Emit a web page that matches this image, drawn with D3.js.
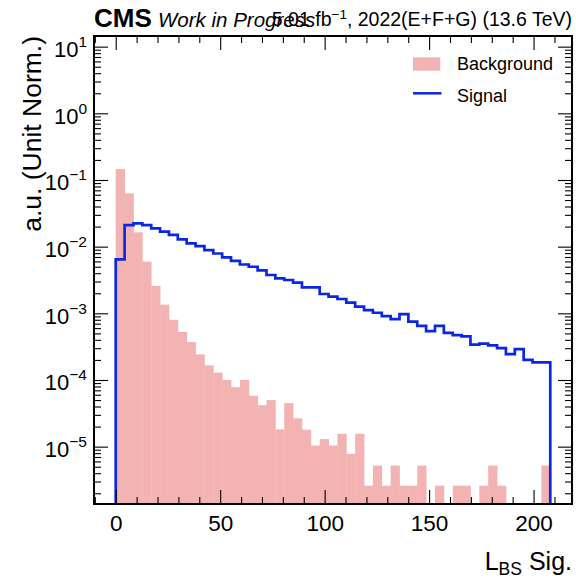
<!DOCTYPE html>
<html><head><meta charset="utf-8">
<script src="https://cdn.jsdelivr.net/npm/d3@7"></script>
<style>
body{margin:0;background:#fff}
svg{display:block}
text{font-family:"Liberation Sans",Arial,Helvetica,sans-serif;fill:#000}
</style>
</head><body>
<svg id="chart" width="576" height="581"></svg>
<script>
// ---------------- data ----------------
const binRange = [0, 208];
const nBins = 49;
const background = [
  0.146, 0.063, 0.0164, 0.00596, 0.00257, 0.00135, 8.0e-4, 5.25e-4, 3.7e-4, 2.43e-4,
  1.66e-4, 1.29e-4, 1.0e-4, 7.8e-5, 1.0e-4, 5.8e-5, 4.2e-5, 5.0e-5, 1.82e-5, 4.5e-5,
  2.66e-5, 1.8e-5, 1.04e-5, 1.3e-5, 1.04e-5, 1.56e-5, 7.8e-6, 1.56e-5, 2.6e-6, 5.2e-6,
  2.6e-6, 5.2e-6, 2.6e-6, 2.6e-6, 5.2e-6, 0, 2.6e-6, 0, 2.6e-6, 2.6e-6,
  0, 2.6e-6, 5.2e-6, 2.6e-6, 0, 0, 0, 0, 5.2e-6
];
const signal = [
  0.00646, 0.0211, 0.0224, 0.0211, 0.0188, 0.0168, 0.0150, 0.0129, 0.0112, 0.0102,
  0.0089, 0.0079, 0.0069, 0.0061, 0.0054, 0.0050, 0.0044, 0.00376, 0.00335, 0.00316,
  0.00288, 0.00245, 0.00245, 0.00195, 0.00178, 0.00164, 0.00145, 0.00126, 0.00112, 0.00102,
  0.00091, 0.00082, 0.00097, 0.00075, 0.00065, 0.00054, 0.00065, 0.00051, 0.00047, 0.00045,
  0.00034, 0.00035, 0.00033, 0.00030, 0.000245, 0.00029, 0.00020, 0.000184, 0.000184
];
const seriesNames = ["Background", "Signal"];
const xMajorTicks = [0, 50, 100, 150, 200];
const xMinorTicks = [-10, 10, 20, 30, 40, 60, 70, 80, 90, 110, 120, 130, 140, 160, 170, 180, 190, 210];
const yMajorExponents = [-5, -4, -3, -2, -1, 0, 1];
const xDomain = [-10.4, 218.4];
const yDomain = [1.38e-6, 14.45];
const xLabelMain = "L", xLabelSub = "BS", xLabelRest = " Sig.";
const yLabel = "a.u. (Unit Norm.)";
const expLabel = "CMS", expSub = "Work in Progress";
const lumiPre = "5.01 fb", lumiSup = "\u22121", lumiPost = ", 2022(E+F+G) (13.6 TeV)";

// ---------------- layout ----------------
const M = {left: 94, right: 572, top: 36, bottom: 504};
const bgColor = "rgb(244,179,179)";
const sigColor = "#0b27e6";
const font = '"Liberation Sans",Arial,Helvetica,sans-serif';

const svg = d3.select("#chart");
const x = d3.scaleLinear().domain(xDomain).range([M.left, M.right]);
const y = d3.scaleLog().domain(yDomain).range([M.bottom, M.top]);

const edges = d3.range(nBins + 1).map(i => binRange[0] + i * (binRange[1] - binRange[0]) / nBins);
const bgBins = background.map((v, i) => ({x0: edges[i], x1: edges[i + 1], v}));
const sigBins = signal.map((v, i) => ({x0: edges[i], x1: edges[i + 1], v}));

svg.append("defs").append("clipPath").attr("id", "clip")
  .append("rect").attr("x", M.left).attr("y", M.top)
  .attr("width", M.right - M.left).attr("height", M.bottom - M.top);

const plot = svg.append("g").attr("clip-path", "url(#clip)");

// background filled histogram
plot.append("g").selectAll("rect")
  .data(bgBins.filter(d => d.v > 0))
  .join("rect")
  .attr("x", d => x(d.x0))
  .attr("width", d => x(d.x1) - x(d.x0) + 0.4)
  .attr("y", d => y(d.v))
  .attr("height", d => M.bottom - y(d.v))
  .attr("fill", bgColor);

// signal step histogram
const stepPts = [[binRange[0], yDomain[0]]];
sigBins.forEach(d => { stepPts.push([d.x0, d.v]); stepPts.push([d.x1, d.v]); });
stepPts.push([binRange[1], yDomain[0]]);
plot.append("path")
  .datum(stepPts)
  .attr("d", d3.line().x(d => x(d[0])).y(d => y(d[1])))
  .attr("fill", "none")
  .attr("stroke", sigColor)
  .attr("stroke-width", 2.7)
  .attr("stroke-linejoin", "miter");

// ---------------- axes (inward ticks on all four sides) ----------------
function styleAxis(g) {
  g.select(".domain").remove();
  g.selectAll(".tick line").attr("stroke", "#000").attr("stroke-width", 1.1);
}
const yMajors = yMajorExponents.map(e => Math.pow(10, e));
const yMinors = [];
for (let e = -6; e <= 1; e++) for (let k = 2; k <= 9; k++) {
  const v = k * Math.pow(10, e);
  if (v > yDomain[0] && v < yDomain[1]) yMinors.push(v);
}

// bottom
svg.append("g").attr("transform", `translate(0,${M.bottom})`)
  .call(d3.axisBottom(x).tickValues(xMajorTicks).tickSize(-14).tickPadding(11).tickFormat(d3.format("d")))
  .call(styleAxis)
  .call(g => g.selectAll("text").attr("font-size", 22.5).attr("font-family", font).attr("fill", "#000"));
svg.append("g").attr("transform", `translate(0,${M.bottom})`)
  .call(d3.axisBottom(x).tickValues(xMinorTicks).tickSize(-7).tickFormat(""))
  .call(styleAxis);
// top
svg.append("g").attr("transform", `translate(0,${M.top})`)
  .call(d3.axisTop(x).tickValues(xMajorTicks).tickSize(-14).tickFormat(""))
  .call(styleAxis);
svg.append("g").attr("transform", `translate(0,${M.top})`)
  .call(d3.axisTop(x).tickValues(xMinorTicks).tickSize(-7).tickFormat(""))
  .call(styleAxis);
// left
const yAxisG = svg.append("g").attr("transform", `translate(${M.left},0)`)
  .call(d3.axisLeft(y).tickValues(yMajors).tickSize(-14).tickFormat(""))
  .call(styleAxis);
svg.append("g").attr("transform", `translate(${M.left},0)`)
  .call(d3.axisLeft(y).tickValues(yMinors).tickSize(-7).tickFormat(""))
  .call(styleAxis);
// right
svg.append("g").attr("transform", `translate(${M.right},0)`)
  .call(d3.axisRight(y).tickValues(yMajors).tickSize(-14).tickFormat(""))
  .call(styleAxis);
svg.append("g").attr("transform", `translate(${M.right},0)`)
  .call(d3.axisRight(y).tickValues(yMinors).tickSize(-7).tickFormat(""))
  .call(styleAxis);

// y tick labels 10^n
yAxisG.selectAll(".tick").each(function(d) {
  const e = Math.round(Math.log10(d));
  const t = d3.select(this).select("text");
  t.attr("x", -7).attr("y", 10).attr("dy", null).attr("text-anchor", "end")
   .attr("font-family", font).attr("fill", "#000").text(null);
  t.append("tspan").attr("font-size", 22).text("10");
  t.append("tspan").attr("font-size", 15.5).attr("dy", -10)
   .text(e < 0 ? "\u2212" + Math.abs(e) : String(e));
});

// frame
svg.append("rect").attr("x", M.left).attr("y", M.top)
  .attr("width", M.right - M.left).attr("height", M.bottom - M.top)
  .attr("fill", "none").attr("stroke", "#000").attr("stroke-width", 2);

// ---------------- labels ----------------
const xl = svg.append("text").attr("x", M.right).attr("y", 570)
  .attr("text-anchor", "end").attr("font-size", 25);
xl.append("tspan").text(xLabelMain);
xl.append("tspan").attr("font-size", 17.5).attr("dy", 5).text(xLabelSub);
xl.append("tspan").attr("dy", -5).text(xLabelRest);

svg.append("text").attr("transform", `translate(41,${M.top}) rotate(-90)`)
  .attr("text-anchor", "end").attr("font-size", 26.5).text(yLabel);

svg.append("text").attr("x", M.left).attr("y", 27)
  .attr("font-size", 26).attr("font-weight", "bold").text(expLabel);
svg.append("text").attr("x", 158).attr("y", 27)
  .attr("font-size", 20.5).attr("font-style", "italic").text(expSub);
const lt = svg.append("text").attr("x", M.right).attr("y", 26)
  .attr("text-anchor", "end").attr("font-size", 19.5);
lt.append("tspan").text(lumiPre);
lt.append("tspan").attr("font-size", 13.5).attr("dy", -7).text(lumiSup);
lt.append("tspan").attr("dy", 7).text(lumiPost);

// ---------------- legend ----------------
const lg = svg.append("g");
lg.append("rect").attr("x", 413).attr("y", 57.3).attr("width", 27.3).attr("height", 13.4).attr("fill", bgColor);
lg.append("text").attr("x", 457).attr("y", 69.5).attr("font-size", 18).text(seriesNames[0]);
lg.append("line").attr("x1", 413).attr("x2", 441.5).attr("y1", 93.3).attr("y2", 93.3)
  .attr("stroke", sigColor).attr("stroke-width", 2.5);
lg.append("text").attr("x", 457).attr("y", 101.7).attr("font-size", 18).text(seriesNames[1]);
</script>
</body></html>
